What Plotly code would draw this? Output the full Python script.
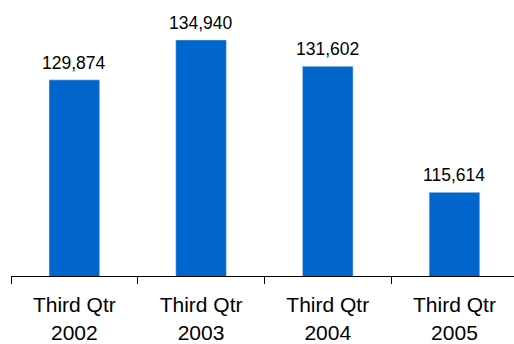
import plotly.graph_objects as go

categories = ["Third Qtr<br>2002", "Third Qtr<br>2003", "Third Qtr<br>2004", "Third Qtr<br>2005"]
values = [129874, 134940, 131602, 115614]

FONT = "Liberation Sans, Arial, Helvetica, sans-serif"

fig = go.Figure(go.Bar(x=categories, y=values, marker_color="#0066CC", width=0.4))

for c, v in zip(categories, values):
    fig.add_annotation(x=c, y=v, text=f"{v:,}", showarrow=False, yanchor="bottom",
                       yshift=5, font=dict(family=FONT, size=17.5, color="#000000"))

fig.update_xaxes(range=[-0.5, 3.47], showline=True, linecolor="#000000", linewidth=1,
                 ticks="outside", tickson="boundaries", ticklen=7, tickcolor="#000000",
                 tickfont=dict(family=FONT, size=21, color="#000000"), showgrid=False,
                 ticklabelstandoff=10, automargin=False)
fig.update_yaxes(visible=False, range=[105000, 140000], automargin=False)
fig.update_layout(width=514, height=344, margin=dict(l=11, r=0, t=0, b=68),
                  plot_bgcolor="white", paper_bgcolor="white", showlegend=False)

fig.write_html("out.html")
